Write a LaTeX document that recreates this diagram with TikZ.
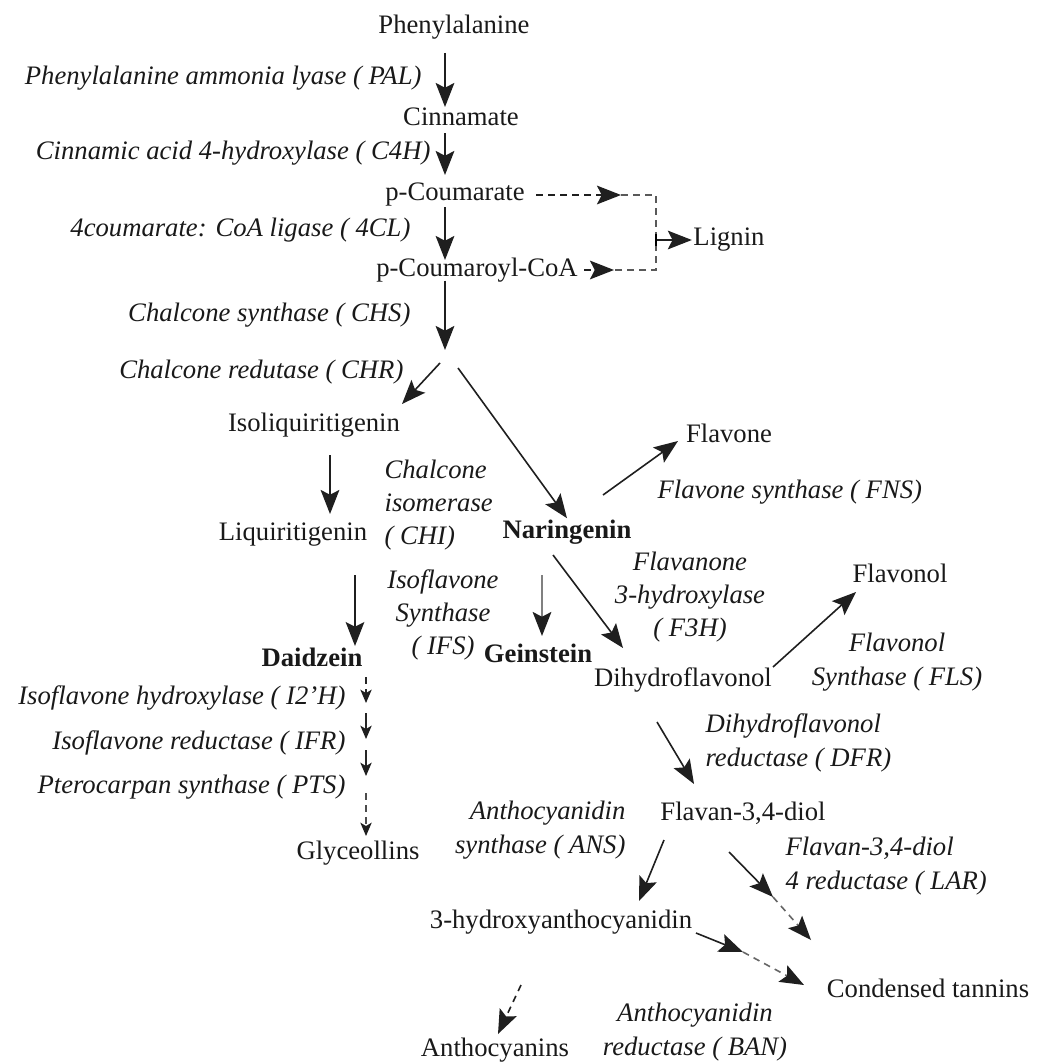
\documentclass[tikz,border=0pt]{standalone}
\usepackage{fontspec}
\setmainfont{Liberation Serif}
\usetikzlibrary{arrows.meta}
\begin{document}
\begin{tikzpicture}[x=0.75pt,y=-0.75pt,
 every node/.style={inner sep=1pt, font=\fontsize{20}{25}\selectfont, text=black!90},
 bcmp/.style={font=\fontsize{20}{25}\selectfont\bfseries},
 enz/.style={font=\fontsize{20}{25}\selectfont\itshape},
 arr/.style={-{Stealth[length=18pt,width=14pt,inset=3.5pt,color=black!88]}, line width=1.2pt, draw=black!88},
 sarr/.style={-{Stealth[length=10pt,width=8.5pt,inset=2.5pt,color=black!88]}, line width=1.1pt, draw=black!85},
 dsh/.style={dash pattern=on 5pt off 4pt},
]
\useasboundingbox (0,0) rectangle (1042,1063);
% compounds
\node (phe) at (454,27) {Phenylalanine};
\node (cin) at (461,117) {Cinnamate};
\node (pcou) at (455,195) {p-Coumarate};
\node (pcoa) at (477,270) {p-Coumaroyl-CoA};
\node (lig) at (729,240) {Lignin};
\node (isl) at (314,425) {Isoliquiritigenin};
\node (liq) at (293,535) {Liquiritigenin};
\node[bcmp] (nar) at (567,532) {Naringenin};
\node (flv) at (729,433) {Flavone};
\node[bcmp] (dai) at (312,657) {Daidzein};
\node[bcmp] (gei) at (538,653) {Geinstein};
\node (dhf) at (683,680) {Dihydroflavonol};
\node (fvl) at (900,573) {Flavonol};
\node (gly) at (358,853) {Glyceollins};
\node (fld) at (743,813) {Flavan-3,4-diol};
\node (hya) at (561,922) {3-hydroxyanthocyanidin};
\node (ctn) at (928,988) {Condensed tannins};
\node (ant) at (495,1050) {Anthocyanins};
% enzymes
\node[enz,anchor=east] (pal) at (423,78) {Phenylalanine ammonia lyase ( PAL)};
\node[enz,anchor=east] (c4h) at (432,153) {Cinnamic acid 4-hydroxylase ( C4H)};
\node[enz,anchor=east] (fcl) at (412,230) {4coumarate: CoA ligase ( 4CL)};
\node[enz,anchor=east] (chs) at (412,315) {Chalcone synthase ( CHS)};
\node[enz,anchor=east] (chr) at (405,372) {Chalcone redutase ( CHR)};
\node[enz,anchor=west,align=left] (chi) at (383,505) {Chalcone\\isomerase\\( CHI)};
\node[enz,align=center] (ifs) at (443,615) {Isoflavone\\Synthase\\( IFS)};
\node[enz,anchor=west] (fns) at (656,492) {Flavone synthase ( FNS)};
\node[enz,align=center] (f3h) at (690,597) {Flavanone\\3-hydroxylase\\( F3H)};
\node[enz,align=center] (fls) at (897,662) {Flavonol\\Synthase ( FLS)};
\node[enz,anchor=east] (i2h) at (347,698) {Isoflavone hydroxylase ( I2'H)};
\node[enz,anchor=east] (ifr) at (347,743) {Isoflavone reductase ( IFR)};
\node[enz,anchor=east] (pts) at (347,787) {Pterocarpan synthase ( PTS)};
\node[enz,anchor=west,align=left] (dfr) at (704,743) {Dihydroflavonol\\reductase ( DFR)};
\node[enz,anchor=east,align=right] (ans) at (627,830) {Anthocyanidin\\synthase ( ANS)};
\node[enz,anchor=west,align=left] (lar) at (784,866) {Flavan-3,4-diol\\4 reductase ( LAR)};
\node[enz,align=center] (ban) at (695,1032) {Anthocyanidin\\reductase ( BAN)};
% helper coordinates
\coordinate (ax) at (445,0);
\coordinate (jn) at (445,350);
\coordinate (lx) at (656,0);
\coordinate (h1) at (621,195);
\coordinate (h2) at (614,270);
\coordinate (ly) at (656,240);
\coordinate (d0) at (366,677);
\coordinate (d1) at (366,703);
\coordinate (d2) at (366,713);
\coordinate (d3) at (366,739);
\coordinate (d4) at (366,750);
\coordinate (d5) at (366,776);
\coordinate (d6) at (366,793);
\coordinate (d7) at (366,836);
\coordinate (l0) at (729,852);
\coordinate (l1) at (773,897);
\coordinate (l2) at (811,940);
\coordinate (b0) at (696,933);
\coordinate (b1) at (743,952);
\coordinate (b2) at (804,985);
% main axis
\draw[arr] (ax |- 0,53) -- (ax |- 0,107);
\draw[arr] (ax |- 0,133) -- (ax |- 0,175);
\draw[arr] (ax |- pcou.south) ++(0,-1) -- (ax |- 0,260);
\draw[arr] (ax |- pcoa.south) ++(0,-3) -- (jn);
% lignin
\draw[arr,dsh] (pcou.east) ++(10,0) -- (h1);
\draw[arr,dsh] (pcoa.east) ++(5,0) -- (h2);
\draw[dsh,line width=1pt,draw=black!65] (h1) -- (lx |- h1) -- (lx |- h2) -- (h2);
\draw[arr] (ly) -- (lig.west);
\draw[line width=1.2pt] (ly) ++(0,-6) -- ++(0,12);
% chalcone branch
\draw[arr] (440,363) -- (402,404);
\draw[arr] (458,368) -- (nar.north);
\draw[arr] (330,455) -- (330,514);
\draw[arr] (603,495) -- (678,441);
\draw[arr] (355,575) -- (dai.north -| 355,0);
\draw[arr,draw=black!50] (542,575) -- (542,636);
\draw[arr] (553,555) -- (623,648);
\draw[arr] (773,667) -- (856,592);
% daidzein chain
\draw[sarr,dsh] (d0) -- (d1);
\draw[sarr] (d2) -- (d3);
\draw[sarr] (d4) -- (d5);
\draw[sarr,dsh,draw=black!70] (d6) -- (d7);
% lower part
\draw[arr] (657,722) -- (694,784);
\draw[arr] (664,840) -- (639,901);
\draw[arr] (l0) -- (l1);
\draw[arr,dsh,draw=black!60] (l1) -- (l2);
\draw[arr] (b0) -- (b1);
\draw[arr,dsh,draw=black!60] (b1) -- (b2);
\draw[arr,dsh] (521,985) -- (498,1034);
\end{tikzpicture}
\end{document}
